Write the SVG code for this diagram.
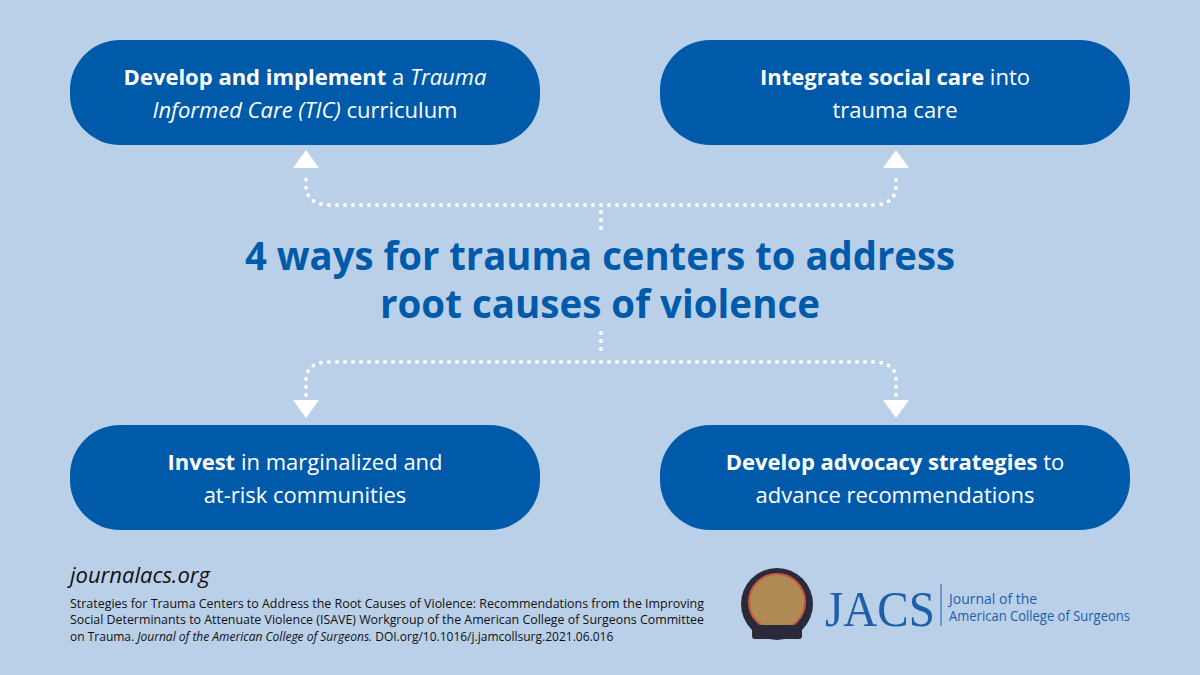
<svg xmlns="http://www.w3.org/2000/svg" width="1200" height="675" viewBox="0 0 1200 675">
<defs><style>
.box{fill:#005aaa}
.bt{fill:#fff;font-family:"Open Sans","Liberation Sans",sans-serif;font-size:22px;text-anchor:middle}
.title{fill:#005aaa;font-family:"Open Sans","Liberation Sans",sans-serif;font-weight:bold;font-size:39px;text-anchor:middle}
.dot{fill:none;stroke:#fff;stroke-width:4;stroke-linecap:round;stroke-dasharray:0 8}
.arr{fill:#fff}
.cite{fill:#111;font-family:"Open Sans","Liberation Sans",sans-serif;font-size:12px}
</style></defs>
<rect width="1200" height="675" fill="#bad0e9"/>
<g id="connectors">
<path class="dot" d="M601 228 V205 M601 205 H330 Q306 205 306 185 V172 M601 205 H873 Q896 205 896 185 V172"/>
<path class="dot" d="M601 333 V355 M601 362 H330 Q306 362 306 380 V395 M601 362 H873 Q896 362 896 380 V395"/>
<polygon class="arr" points="306,150 293,168 319,168"/>
<polygon class="arr" points="896,150 883,168 909,168"/>
<polygon class="arr" points="306,418 293,400 319,400"/>
<polygon class="arr" points="896,418 883,400 909,400"/>
</g>
<g id="n1"><rect class="box" x="70" y="40" width="470" height="105" rx="50"/>
<text class="bt" x="305" y="85"><tspan font-weight="bold">Develop and implement</tspan> a <tspan font-style="italic">Trauma</tspan></text>
<text class="bt" x="305" y="118"><tspan font-style="italic">Informed Care (TIC)</tspan> curriculum</text></g>
<g id="n2"><rect class="box" x="660" y="40" width="470" height="105" rx="50"/>
<text class="bt" x="895" y="85"><tspan font-weight="bold">Integrate social care</tspan> into</text>
<text class="bt" x="895" y="118">trauma care</text></g>
<g id="title"><text class="title" x="600" y="270" textLength="710" lengthAdjust="spacingAndGlyphs">4 ways for trauma centers to address</text>
<text class="title" x="600" y="318" textLength="440" lengthAdjust="spacingAndGlyphs">root causes of violence</text></g>
<g id="n3"><rect class="box" x="70" y="425" width="470" height="105" rx="50"/>
<text class="bt" x="305" y="470"><tspan font-weight="bold">Invest</tspan> in marginalized and</text>
<text class="bt" x="305" y="503">at-risk communities</text></g>
<g id="n4"><rect class="box" x="660" y="425" width="470" height="105" rx="50"/>
<text class="bt" x="895" y="470"><tspan font-weight="bold">Develop advocacy strategies</tspan> to</text>
<text class="bt" x="895" y="503">advance recommendations</text></g>
<g id="footer">
<text x="70" y="583" font-family="'Open Sans','Liberation Sans',sans-serif" font-size="22" font-style="italic" fill="#111">journalacs.org</text>
<text class="cite" x="70" y="608" textLength="634" lengthAdjust="spacingAndGlyphs">Strategies for Trauma Centers to Address the Root Causes of Violence: Recommendations from the Improving</text>
<text class="cite" x="70" y="624" textLength="634" lengthAdjust="spacingAndGlyphs">Social Determinants to Attenuate Violence (ISAVE) Workgroup of the American College of Surgeons Committee</text>
<text class="cite" x="70" y="641">on Trauma. <tspan font-style="italic">Journal of the American College of Surgeons.</tspan> DOI.org/10.1016/j.jamcollsurg.2021.06.016</text>
<circle cx="777" cy="604" r="36" fill="#2b2a3a"/>
<circle cx="777" cy="602" r="28" fill="#b08a55" stroke="#c9583a" stroke-width="2"/>
<rect x="752" y="625" width="50" height="14" rx="3" fill="#2b2a3a"/>
<text x="825" y="626" font-family="'Liberation Serif',serif" font-size="50" fill="#1f5ea8" textLength="110" lengthAdjust="spacingAndGlyphs">JACS</text>
<line x1="941" y1="584" x2="941" y2="626" stroke="#1f5ea8" stroke-width="1"/>
<text x="949" y="604" font-family="'Open Sans','Liberation Sans',sans-serif" font-size="14" fill="#1f5ea8">Journal of the</text>
<text x="949" y="621" font-family="'Open Sans','Liberation Sans',sans-serif" font-size="14" fill="#1f5ea8" textLength="181" lengthAdjust="spacingAndGlyphs">American College of Surgeons</text>
</g>
</svg>
